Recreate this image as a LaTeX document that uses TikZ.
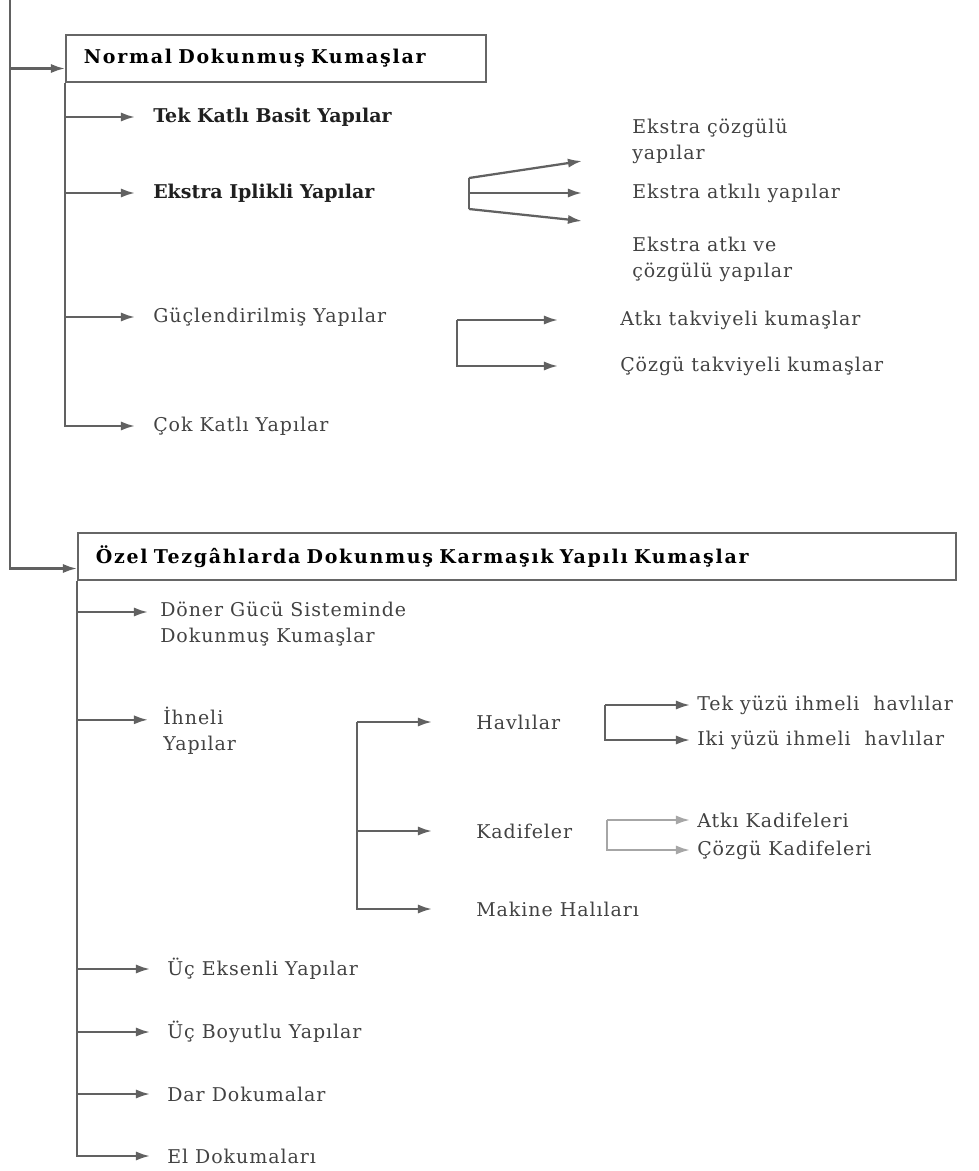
\documentclass[tikz,border=0pt]{standalone}
\usepackage{fontspec}
\setmainfont[LetterSpace=5]{DejaVu Serif}
\usetikzlibrary{arrows.meta,positioning}

\begin{document}
\begin{tikzpicture}[x=0.025cm,y=-0.025cm,
        every node/.append style = {anchor = west, inner sep = 0pt},
        lbl/.style = {font=\fontsize{13.5}{18.5}\selectfont, text=black!74, align=left},
        lblb/.style = {lbl, text=black!88, font=\fontsize{13.5}{18.5}\selectfont\bfseries\addfontfeatures{LetterSpace=0}},
        ttl/.style = {draw=black!60, line width=1.3pt, minimum height=1.175cm, inner xsep=0.45cm, align=left, text=black,
                      font=\fontsize{13.5}{18}\selectfont\bfseries\addfontfeatures{LetterSpace=9}},
        ln/.style = {draw=black!62, line width=1.6pt},
        arr/.style = {ln, -{Latex[length=10pt,width=6.5pt]}},
        gap/.style = {shorten >=#1*0.025cm}]
    \useasboundingbox (0,0) rectangle (979,1171);

    \node[ttl, text width=9.6cm] (normal) at (65,58.5) {Normal Dokunmuş Kumaşlar};
    \node[lblb] (tek) at (153,117) {Tek Katlı Basit Yapılar};
    \node[lblb] (ekstra) at (153,193) {Ekstra Iplikli Yapılar};
    \node[lbl] (guc) at (153,317) {Güçlendirilmiş Yapılar};
    \node[lbl] (cok) at (153,426) {Çok Katlı Yapılar};

    \node[lbl] (ecoz) at (632,141) {Ekstra çözgülü\\yapılar};
    \node[lbl] (eatk) at (632,193) {Ekstra atkılı yapılar};
    \node[lbl] (eatc) at (632,259) {Ekstra atkı ve\\çözgülü yapılar};
    \node[lbl] (atkt) at (620,320) {Atkı takviyeli kumaşlar};
    \node[lbl] (cozt) at (620,366) {Çözgü takviyeli kumaşlar};

    \node[ttl, text width=21.05cm] (ozel) at (77,556.5)
        {Özel Tezgâhlarda Dokunmuş Karmaşık Yapılı Kumaşlar};
    \node[lbl] (doner) at (160,624) {Döner Gücü Sisteminde\\Dokunmuş Kumaşlar};
    \node[lbl] (ihneli) at (163,731) {İhneli\\Yapılar};
    \node[lbl] (havli) at (476,722) {Havlılar};
    \node[lbl] (kadife) at (476,831) {Kadifeler};
    \node[lbl] (makine) at (476,909) {Makine Halıları};
    \node[lbl] (tekyuz) at (697,705) {Tek yüzü ihmeli \ havlılar};
    \node[lbl] (ikiyuz) at (697,740) {Iki yüzü ihmeli \ havlılar};
    \node[lbl] (atkad) at (697,820) {Atkı Kadifeleri};
    \node[lbl] (cozkad) at (697,850) {Çözgü Kadifeleri};
    \node[lbl] (ucek) at (167,969) {Üç Eksenli Yapılar};
    \node[lbl] (ucboy) at (167,1032) {Üç Boyutlu Yapılar};
    \node[lbl] (dar) at (167,1094) {Dar Dokumalar};
    \node[lbl] (el) at (167,1156) {El Dokumaları};

    \coordinate (root) at (10,0);
    \coordinate (inA) at ([yshift=-0.25cm]normal.west);
    \coordinate (inB) at ([yshift=-0.3cm]ozel.west);
    \coordinate (dA) at ([yshift=0.3cm]doner.west);
    \coordinate (iA) at ([yshift=0.28cm]ihneli.west);
    \coordinate (fe) at (469,178);
    \coordinate (fe2) at (469,209);
    \coordinate (te1) at (582,161);
    \coordinate (te3) at (582,221);
    \coordinate (fg) at (457,0);
    \coordinate (fh) at (357,0);
    \coordinate (fh2) at (605,0);
    \coordinate (fk) at (607,0);

    \draw[arr] (root) |- (inB);
    \draw[arr] (root |- inA) -- (inA);

    \draw[arr, gap=18] (normal.south west) |- (cok.west);
    \foreach \n in {tek,ekstra,guc}
        \draw[arr, gap=18] (normal.south west |- \n.west) -- (\n.west);

    \draw[ln] (fe) -- (fe2);
    \draw[arr] (fe) -- (te1);
    \draw[arr, gap=50] (fe |- eatk.west) -- (eatk.west);
    \draw[arr] (fe2) -- (te3);

    \draw[arr, gap=62] (fg |- atkt.west) -- (atkt.west);
    \draw[arr, gap=62] (fg |- atkt.west) |- (cozt.west);

    \draw[arr, gap=17] (ozel.south west) |- (el.west);
    \foreach \n in {ucek,ucboy,dar}
        \draw[arr, gap=17] (ozel.south west |- \n.west) -- (\n.west);
    \draw[arr, gap=12] (ozel.south west |- dA) -- (dA);
    \draw[arr, gap=15] (ozel.south west |- iA) -- (iA);

    \draw[arr, gap=44] (fh |- havli.west) -- (havli.west);
    \draw[arr, gap=44] (fh |- havli.west) |- (makine.west);
    \draw[arr, gap=44] (fh |- kadife.west) -- (kadife.west);

    \draw[arr, gap=7] (fh2 |- tekyuz.west) -- (tekyuz.west);
    \draw[arr, gap=7] (fh2 |- tekyuz.west) |- (ikiyuz.west);

    \draw[arr, gap=7, draw=black!35] (fk |- atkad.west) -- (atkad.west);
    \draw[arr, gap=7, draw=black!35] (fk |- atkad.west) |- (cozkad.west);
\end{tikzpicture}
\end{document}
